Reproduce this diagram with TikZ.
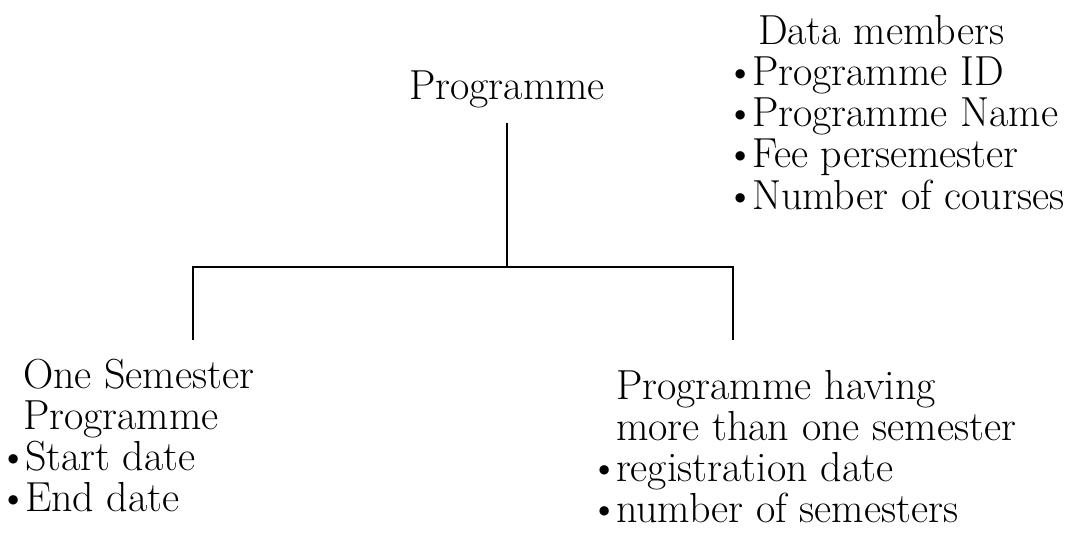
\documentclass[tikz,border=0pt]{standalone}
\usetikzlibrary{positioning}
\newcommand{\bul}{\makebox[10pt][l]{\kern-3.5pt\textbullet}}
\begin{document}
\begin{tikzpicture}[x=0.5pt, y=-0.5pt, line width=1pt,
	txt/.style={inner sep=0pt, text height=14.5pt, text depth=4pt, font=\fontsize{21}{19.5}\selectfont}]
	\useasboundingbox (0,0) rectangle (1074,534);

	\node[txt, anchor=base, inner ysep=7pt] (prog) at (507,100) {Programme};

	% data members
	\node[txt, anchor=base west] (data) at (757,45) {Data members};
	\node[txt, below right=1pt and -13pt of data.south west] (pid) {\bul Programme ID};
	\node[txt, below right=1pt and 0pt of pid.south west] (pname) {\bul Programme Name};
	\node[txt, below right=1pt and 0pt of pname.south west] (fee) {\bul Fee persemester};
	\node[txt, below right=1pt and 0pt of fee.south west] (ncourse) {\bul Number of courses};

	% one semester
	\node[txt, anchor=base west] (one) at (22,388) {One Semester};
	\node[txt, below right=1pt and 0pt of one.south west] (oneb) {Programme};
	\node[txt, below right=1pt and -9pt of oneb.south west] (start) {\bul Start date};
	\node[txt, below right=1pt and 0pt of start.south west] (end) {\bul End date};

	% more semesters
	\node[txt, anchor=base west] (multi) at (615,399) {Programme having};
	\node[txt, below right=1pt and 0pt of multi.south west] (multib) {more than one semester};
	\node[txt, below right=1pt and -10pt of multib.south west] (reg) {\bul registration date};
	\node[txt, below right=1pt and 0pt of reg.south west] (nsem) {\bul number of semesters};

	\coordinate (split) at (507,267);
	\coordinate (lcorner) at (193,267);
	\coordinate (rcorner) at (733,267);
	\coordinate (lend) at (193,340);
	\coordinate (rend) at (733,340);

	\draw (prog) -- (split);
	\draw (lend) -- (lcorner) -- (rcorner) -- (rend);
\end{tikzpicture}
\end{document}
